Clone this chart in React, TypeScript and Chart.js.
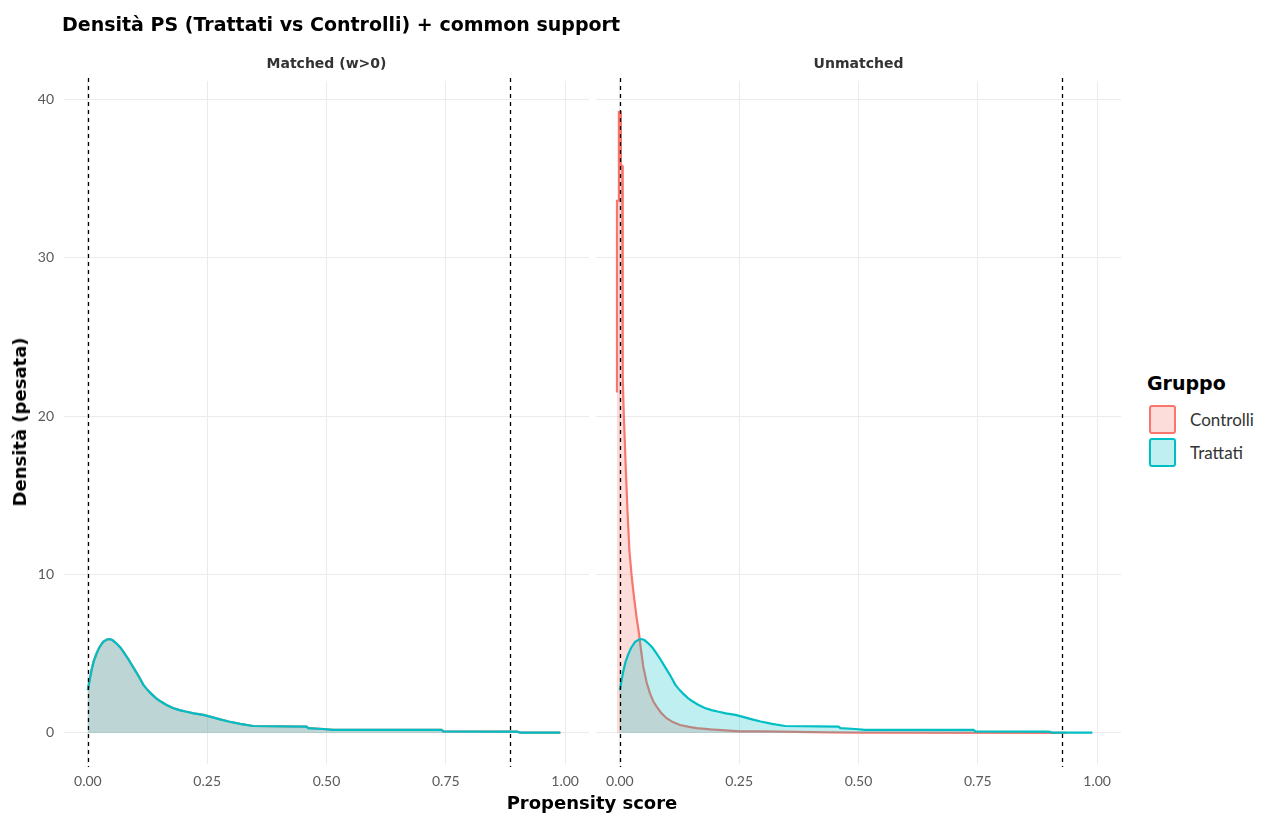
import React, { useEffect, useRef } from "react";
import { Chart, registerables } from "chart.js";
Chart.register(...registerables);

const TITLE = "Densità PS (Trattati vs Controlli) + common support";
const PANELS = ["Matched (w>0)", "Unmatched"];
const GROUPS = ["Controlli", "Trattati"];
const X_TITLE = "Propensity score";
const Y_TITLE = "Densità (pesata)";
const LEGEND_TITLE = "Gruppo";
const X_TICKS = [0, 0.25, 0.5, 0.75, 1];
const Y_TICKS = [0, 10, 20, 30, 40];

const TREATED_PS = [0.0, 0.004, 0.008, 0.012, 0.018, 0.024, 0.032, 0.04, 0.046, 0.052, 0.06, 0.068, 0.076, 0.084, 0.092, 0.1, 0.108, 0.116, 0.124, 0.132, 0.142, 0.152, 0.164, 0.178, 0.192, 0.207, 0.222, 0.242, 0.26, 0.277, 0.295, 0.319, 0.346, 0.458, 0.462, 0.493, 0.514, 0.741, 0.745, 0.899, 0.906, 0.99];
const TREATED_DENSITY = [2.7, 3.4, 4.0, 4.5, 5.0, 5.4, 5.75, 5.9, 5.93, 5.85, 5.65, 5.4, 5.05, 4.7, 4.3, 3.9, 3.5, 3.05, 2.75, 2.5, 2.22, 2.0, 1.78, 1.58, 1.44, 1.34, 1.24, 1.14, 1.0, 0.86, 0.72, 0.57, 0.44, 0.4, 0.3, 0.25, 0.19, 0.19, 0.1, 0.08, 0.02, 0.02];

const MATCHED_CONTROL_PS = [0.0, 0.004, 0.008, 0.012, 0.018, 0.024, 0.032, 0.04, 0.046, 0.052, 0.06, 0.068, 0.076, 0.084, 0.092, 0.1, 0.108, 0.116, 0.124, 0.132, 0.142, 0.152, 0.164, 0.178, 0.192, 0.207, 0.222, 0.242, 0.26, 0.277, 0.295, 0.319, 0.346, 0.458, 0.462, 0.493, 0.514, 0.741, 0.745, 0.899, 0.906, 0.99];
const MATCHED_CONTROL_DENSITY = [2.7, 3.4, 4.0, 4.5, 5.0, 5.4, 5.75, 5.9, 5.93, 5.85, 5.65, 5.4, 5.05, 4.7, 4.3, 3.9, 3.5, 3.05, 2.75, 2.5, 2.22, 2.0, 1.78, 1.58, 1.44, 1.34, 1.24, 1.14, 1.0, 0.86, 0.72, 0.57, 0.44, 0.4, 0.3, 0.25, 0.19, 0.19, 0.1, 0.08, 0.02, 0.02];

const UNMATCHED_CONTROL_PS = [-0.006, -0.006, -0.002, -0.002, 0.002, 0.002, 0.005, 0.006, 0.008, 0.012, 0.016, 0.02, 0.025, 0.03, 0.035, 0.04, 0.044, 0.049, 0.056, 0.063, 0.07, 0.077, 0.087, 0.098, 0.11, 0.126, 0.145, 0.161, 0.19, 0.252, 0.3, 0.44, 0.5, 0.936];
const UNMATCHED_CONTROL_DENSITY = [21.5, 33.6, 33.6, 39.2, 39.2, 35.8, 35.8, 22.5, 20.3, 17, 14, 11.5, 9.8, 8.5, 7.3, 6.3, 5.3, 4.2, 3.2, 2.5, 2.0, 1.66, 1.25, 0.93, 0.7, 0.5, 0.38, 0.3, 0.22, 0.1, 0.1, 0.04, 0.02, 0.0];

const SUPPORT_MATCHED = [0.001, 0.885];
const SUPPORT_UNMATCHED = [0.001, 0.927];

const X_MIN = -0.05;
const X_MAX = 1.05;
const Y_MIN = -1.96;
const Y_MAX = 41.16;

const RED = "#F8766D";
const TEAL = "#00BFC4";
const RED_FILL = "rgba(248,118,109,0.25)";
const TEAL_FILL = "rgba(0,191,196,0.25)";
const FONT = "Lato, 'Open Sans', sans-serif";
const HEAD_FONT = "'DejaVu Sans', Lato, sans-serif";

const toPoints = (xs: number[], ys: number[]) => xs.map((x, i) => ({ x, y: ys[i] }));

const supportPlugin = {
  id: "supportLines",
  afterDatasetsDraw(chart: any, _args: any, opts: any) {
    const { ctx, chartArea, scales } = chart;
    ctx.save();
    ctx.strokeStyle = "#000";
    ctx.lineWidth = 1.3;
    ctx.setLineDash([4, 4]);
    (opts.values || []).forEach((v: number) => {
      const px = Math.round(scales.x.getPixelForValue(v)) + 0.5;
      ctx.beginPath();
      ctx.moveTo(px, chartArea.top - 3);
      ctx.lineTo(px, chartArea.bottom + 3);
      ctx.stroke();
    });
    ctx.restore();
  },
};

function Panel(props: {
  left: number;
  width: number;
  yWidth: number;
  showY: boolean;
  controlPs: number[];
  controlDensity: number[];
  support: number[];
}) {
  const ref = useRef<HTMLCanvasElement>(null);
  useEffect(() => {
    const chart = new Chart(ref.current!, {
      type: "line",
      data: {
        datasets: [
          {
            label: GROUPS[1],
            data: toPoints(TREATED_PS, TREATED_DENSITY),
            borderColor: TEAL,
            backgroundColor: TEAL_FILL,
            borderWidth: 2.2,
            fill: "origin",
            pointRadius: 0,
            tension: 0,
            order: 0,
          },
          {
            label: GROUPS[0],
            data: toPoints(props.controlPs, props.controlDensity),
            borderColor: RED,
            backgroundColor: RED_FILL,
            borderWidth: 2.2,
            fill: "origin",
            pointRadius: 0,
            tension: 0,
            order: 1,
          },
        ],
      },
      options: {
        animation: false,
        responsive: false,
        layout: { padding: { top: 81, bottom: 20, right: 3, left: 0 } },
        plugins: {
          legend: { display: false },
          tooltip: { enabled: false },
          supportLines: { values: props.support },
        } as any,
        scales: {
          x: {
            type: "linear",
            min: X_MIN,
            max: X_MAX,
            afterBuildTicks: (s: any) => {
              s.ticks = X_TICKS.map((v) => ({ value: v }));
            },
            afterFit: (s: any) => {
              s.height = 30;
            },
            grid: { color: "#ebebeb", lineWidth: 1, drawTicks: false },
            border: { display: false },
            ticks: {
              padding: 9,
              color: "#5a5a5a",
              font: { family: FONT, size: 14 },
              callback: (v: any) => Number(v).toFixed(2),
            },
          },
          y: {
            type: "linear",
            min: Y_MIN,
            max: Y_MAX,
            afterBuildTicks: (s: any) => {
              s.ticks = Y_TICKS.map((v) => ({ value: v }));
            },
            afterFit: (s: any) => {
              s.width = props.yWidth;
            },
            grid: { color: "#ebebeb", lineWidth: 1, drawTicks: false },
            border: { display: false },
            ticks: {
              display: props.showY,
              padding: 10,
              color: "#5a5a5a",
              font: { family: FONT, size: 14 },
            },
          },
        },
      },
      plugins: [supportPlugin],
    });
    return () => chart.destroy();
  }, []);
  return (
    <canvas
      ref={ref}
      width={props.width}
      height={814}
      style={{ position: "absolute", left: props.left, top: 0, width: props.width, height: 814 }}
    />
  );
}

const textBase: React.CSSProperties = {
  position: "absolute",
  whiteSpace: "nowrap",
  lineHeight: 1,
};

export default function App() {
  return (
    <div
      style={{
        position: "fixed",
        left: 0,
        top: 0,
        width: 1262,
        height: 814,
        background: "#fff",
        overflow: "hidden",
      }}
    >
      <Panel left={0} width={592} yWidth={64} showY={true} controlPs={MATCHED_CONTROL_PS} controlDensity={MATCHED_CONTROL_DENSITY} support={SUPPORT_MATCHED} />
      <Panel left={592} width={532} yWidth={4} showY={false} controlPs={UNMATCHED_CONTROL_PS} controlDensity={UNMATCHED_CONTROL_DENSITY} support={SUPPORT_UNMATCHED} />

      <div style={{ ...textBase, fontFamily: HEAD_FONT, left: 62, top: 15, fontSize: 19, fontWeight: 700, color: "#000" }}>{TITLE}</div>
      <div style={{ ...textBase, fontFamily: HEAD_FONT, left: 64, width: 525, top: 56, textAlign: "center", fontSize: 14, fontWeight: 700, color: "#333" }}>{PANELS[0]}</div>
      <div style={{ ...textBase, fontFamily: HEAD_FONT, left: 596, width: 525, top: 56, textAlign: "center", fontSize: 14, fontWeight: 700, color: "#333" }}>{PANELS[1]}</div>
      <div style={{ ...textBase, fontFamily: HEAD_FONT, left: 0, width: 1184, top: 794, textAlign: "center", fontSize: 18, fontWeight: 700, color: "#000" }}>{X_TITLE}</div>
      <div
        style={{
          ...textBase,
          fontFamily: HEAD_FONT,
          left: 20,
          top: 422,
          fontSize: 18,
          fontWeight: 700,
          color: "#000",
          transform: "translate(-50%, -50%) rotate(-90deg)",
        }}
      >
        {Y_TITLE}
      </div>

      <div style={{ ...textBase, fontFamily: HEAD_FONT, left: 1147, top: 374, fontSize: 19, fontWeight: 700, color: "#000" }}>{LEGEND_TITLE}</div>
      {GROUPS.map((g, i) => (
        <React.Fragment key={g}>
          <div
            style={{
              position: "absolute",
              left: 1149,
              top: 405 + i * 33,
              width: 23,
              height: 25,
              border: `2px solid ${i === 0 ? RED : TEAL}`,
              borderRadius: 3,
              background: i === 0 ? RED_FILL : TEAL_FILL,
            }}
          />
          <div style={{ ...textBase, fontFamily: FONT, left: 1190, top: 411 + i * 33, fontSize: 17, color: "#333" }}>{g}</div>
        </React.Fragment>
      ))}
    </div>
  );
}
